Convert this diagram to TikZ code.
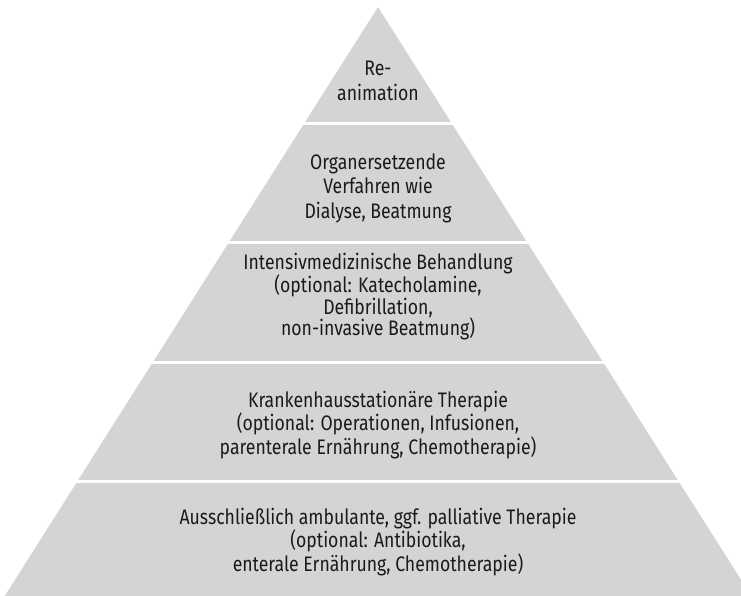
\documentclass[tikz,border=0pt]{standalone}
\usepackage{fontspec}
\setmainfont{Fira Sans}[FakeStretch=0.84]
\definecolor{pyrgray}{HTML}{D4D4D4}
\definecolor{txt}{HTML}{1A1A1A}
\begin{document}
\begin{tikzpicture}[x=1pt,y=-1pt,
  lbl/.style={align=center,text=txt,font=\fontsize{21}{23.5}\selectfont,inner sep=0pt},
  gapline/.style={draw=white,line width=3pt}]
\useasboundingbox (0,0) rectangle (741,596);
\begin{scope}
\clip (0,0) rectangle (741,596);
\fill[pyrgray] (378,7) -- (757,605) -- (-1,605) -- cycle;
\end{scope}
\foreach \y in {123.5,242.5,362.5,481.5} \draw[gapline] (0,\y) -- (741,\y);
\node[lbl,font=\fontsize{21}{25}\selectfont] (l1) at (378,81) {Re-\\animation};
\node[lbl,font=\fontsize{21}{24.5}\selectfont] (l2) at (378,188) {Organersetzende\\Verfahren wie\\Dialyse, Beatmung};
\node[lbl,font=\fontsize{21}{21.5}\selectfont] (l3) at (378,296.5) {Intensivmedizinische Behandlung\\(optional: Katecholamine,\\Defibrillation,\\non-invasive Beatmung)};
\node[lbl] (l4) at (378,425) {Krankenhausstationäre Therapie\\(optional: Operationen, Infusionen,\\parenterale Ernährung, Chemotherapie)};
\node[lbl] (l5) at (378,542) {Ausschließlich ambulante, ggf. palliative Therapie\\(optional: Antibiotika,\\enterale Ernährung, Chemotherapie)};
\end{tikzpicture}
\end{document}
